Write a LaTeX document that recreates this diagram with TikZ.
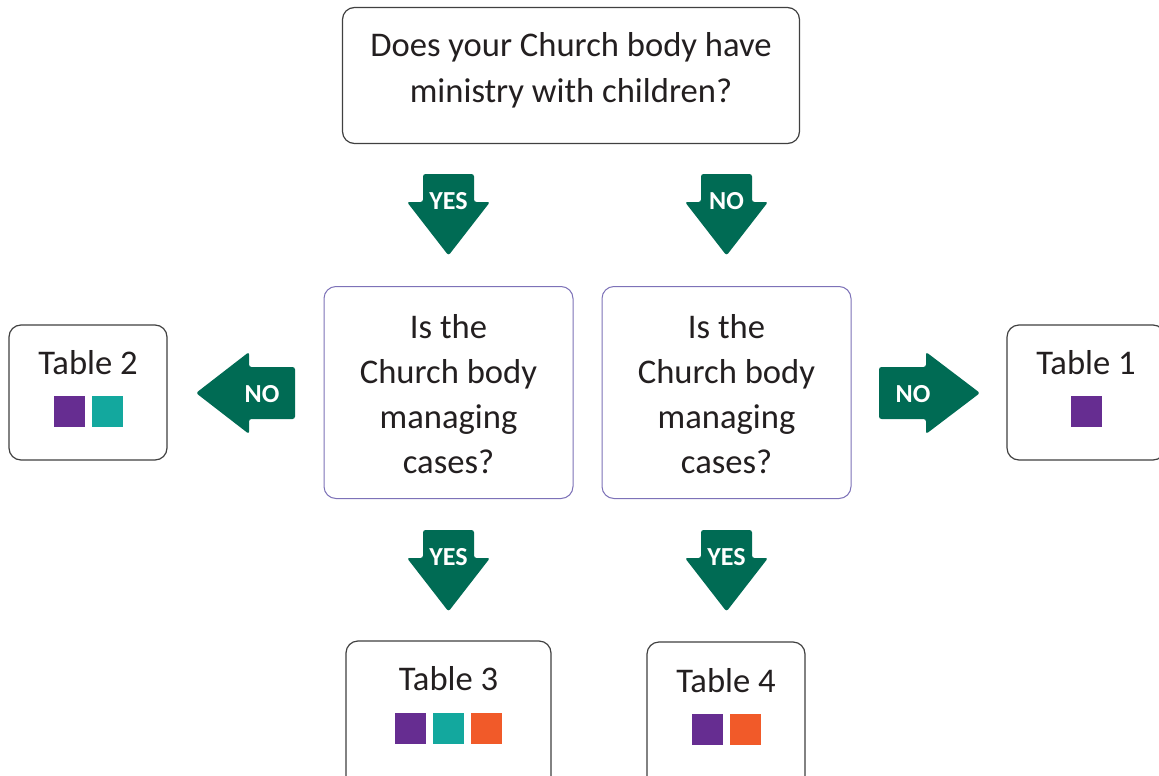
\documentclass[tikz,border=0pt]{standalone}
\usepackage{fontspec}
\setmainfont{Carlito}
\definecolor{agreen}{HTML}{006B54}
\definecolor{cpurple}{HTML}{662D91}
\definecolor{cteal}{HTML}{13A89E}
\definecolor{corange}{HTML}{F15A29}
\definecolor{qborder}{HTML}{7D72B8}
\definecolor{tborder}{HTML}{404040}
\definecolor{txt}{HTML}{231F20}
\tikzset{
  box/.style={draw=tborder, line width=1.2pt, rounded corners=12pt, fill=white, inner sep=0pt},
  qbox/.style={draw=qborder, line width=1pt, rounded corners=12pt, fill=white, inner sep=0pt},
  lbl/.style={font=\fontsize{34.6}{40}\selectfont, text=txt, anchor=base, inner sep=0pt},
  albl/.style={font=\fontsize{26}{30}\selectfont\bfseries, text=white, inner sep=0pt},
  sq/.style={minimum size=31pt, inner sep=0pt},
  downarr/.pic={\fill[agreen, rounded corners=2.5pt] (-25.5,0) -- (25.5,0) -- (25.5,28) -- (41.5,28) -- (0,81.5) -- (-41.5,28) -- (-25.5,28) -- cycle;},
  leftarr/.pic={\fill[agreen, rounded corners=2.5pt] (0,0) -- (53,-41) -- (53,-26) -- (99,-26) -- (99,26) -- (53,26) -- (53,41) -- cycle;},
  rightarr/.pic={\fill[agreen, rounded corners=2.5pt] (0,0) -- (-54,-41) -- (-54,-26) -- (-101,-26) -- (-101,26) -- (-54,26) -- (-54,41) -- cycle;}
}
\begin{document}
\begin{tikzpicture}[x=1pt,y=-1pt]
\useasboundingbox (0,0) rectangle (1159,776);
\clip (0,0) rectangle (1159,776);
\fill[white] (0,0) rectangle (1159,776);
% top question
\node[box, minimum width=457pt, minimum height=136pt] (q0) at (571,75.5) {};
\node[lbl] (q0a) at (571,57) {Does your Church body have};
\node[lbl] (q0b) at (571,102) {ministry with children?};
% middle questions
\node[qbox, minimum width=249pt, minimum height=212pt] (ql) at (448.5,392.5) {};
\node[lbl] (qla) at (448.5,338) {Is the};
\node[lbl] (qlb) at (448.5,383) {Church body};
\node[lbl] (qlc) at (448.5,428) {managing};
\node[lbl] (qld) at (448.5,473) {cases?};
\node[qbox, minimum width=249pt, minimum height=212pt] (qr) at (726.5,392.5) {};
\node[lbl] (qra) at (726.5,338) {Is the};
\node[lbl] (qrb) at (726.5,383) {Church body};
\node[lbl] (qrc) at (726.5,428) {managing};
\node[lbl] (qrd) at (726.5,473) {cases?};
% arrows from top
\pic at (448.5,174) {downarr};
\node[albl] (ay1) at (448.5,201) {YES};
\pic at (726.5,174) {downarr};
\node[albl] (an1) at (726.5,201) {NO};
% side arrows
\pic at (196,393) {leftarr};
\node[albl] (an2) at (262,394) {NO};
\pic at (980,393) {rightarr};
\node[albl] (an3) at (913,394) {NO};
% bottom arrows
\pic at (448.5,530) {downarr};
\node[albl] (ay2) at (448.5,557) {YES};
\pic at (726.5,530) {downarr};
\node[albl] (ay3) at (726.5,557) {YES};
% Table 2
\node[box, minimum width=158pt, minimum height=135pt] (t2) at (88,392.5) {};
\node[lbl] (t2l) at (88,374) {Table 2};
\node[sq, fill=cpurple] (t2a) at (69.5,411.5) {};
\node[sq, fill=cteal] (t2b) at (107.5,411.5) {};
% Table 1
\node[box, minimum width=158pt, minimum height=135pt] (t1) at (1086,392.5) {};
\node[lbl] (t1l) at (1086,374) {Table 1};
\node[sq, fill=cpurple] (t1a) at (1086.5,411.5) {};
% Table 3
\node[box, minimum width=205pt, minimum height=160pt] (t3) at (448.5,721) {};
\node[lbl] (t3l) at (448.5,690) {Table 3};
\node[sq, fill=cpurple] (t3a) at (410.5,728.5) {};
\node[sq, fill=cteal] (t3b) at (448.5,728.5) {};
\node[sq, fill=corange] (t3c) at (486.5,728.5) {};
% Table 4
\node[box, minimum width=158pt, minimum height=160pt] (t4) at (726,722) {};
\node[lbl] (t4l) at (726,692) {Table 4};
\node[sq, fill=cpurple] (t4a) at (707.5,729.5) {};
\node[sq, fill=corange] (t4b) at (745.5,729.5) {};
\end{tikzpicture}
\end{document}
